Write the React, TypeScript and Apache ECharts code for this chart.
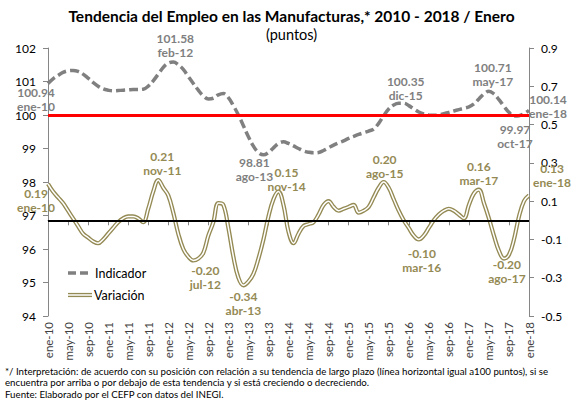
import React, { useEffect, useRef } from 'react';
import * as echarts from 'echarts';

const monthNames = ['ene', 'feb', 'mar', 'abr', 'may', 'jun', 'jul', 'ago', 'sep', 'oct', 'nov', 'dic'];
const categories: string[] = [];
for (let y = 10; y <= 18; y++) {
  for (let m = 0; m < 12; m++) {
    if (y === 18 && m > 0) break;
    categories.push(`${monthNames[m]}-${y}`);
  }
}

const indicador = [
  100.94, 101.08, 101.18, 101.27, 101.32, 101.33, 101.30, 101.22, 101.10, 100.97, 100.86, 100.78,
  100.74, 100.72, 100.73, 100.74, 100.75, 100.76, 100.76, 100.77, 100.86, 101.02, 101.22, 101.42,
  101.55, 101.58, 101.50, 101.36, 101.15, 100.94, 100.74, 100.57, 100.48, 100.50, 100.60, 100.64,
  100.52, 100.28, 100.00, 99.68, 99.35, 99.07, 98.88, 98.81, 98.88, 99.02, 99.15, 99.20,
  99.15, 99.08, 99.00, 98.93, 98.89, 98.87, 98.88, 98.94, 99.02, 99.10, 99.17, 99.23,
  99.30, 99.36, 99.42, 99.47, 99.52, 99.58, 99.75, 99.98, 100.18, 100.30, 100.35, 100.35,
  100.28, 100.18, 100.09, 100.03, 100.00, 99.99, 100.00, 100.04, 100.08, 100.12, 100.16, 100.20,
  100.24, 100.33, 100.48, 100.63, 100.71, 100.63, 100.46, 100.26, 100.08, 99.97, 99.98, 100.04,
  100.14,
];

const variacion = [
  0.19, 0.15, 0.12, 0.09, 0.05, 0.01, -0.03, -0.07, -0.09, -0.11, -0.12, -0.10,
  -0.07, -0.04, -0.01, 0.01, 0.02, 0.02, 0.01, -0.01, 0.06, 0.15, 0.21, 0.17,
  0.13, 0.04, -0.07, -0.15, -0.19, -0.21, -0.20, -0.17, -0.08, -0.01, 0.09, 0.08,
  -0.04, -0.19, -0.30, -0.34, -0.32, -0.28, -0.20, -0.10, 0.02, 0.11, 0.15, 0.08,
  -0.06, -0.12, -0.07, -0.03, -0.02, -0.01, 0.03, 0.08, 0.10, 0.07, 0.05, 0.06,
  0.07, 0.08, 0.04, 0.05, 0.07, 0.12, 0.17, 0.20, 0.17, 0.11, 0.05, 0.00,
  -0.04, -0.08, -0.10, -0.08, -0.04, 0.00, 0.03, 0.05, 0.06, 0.05, 0.03, 0.01,
  0.08, 0.14, 0.16, 0.09, 0.01, -0.08, -0.16, -0.20, -0.18, -0.10, 0.02, 0.10,
  0.13,
];

const leftTicks = [94, 95, 96, 97, 98, 99, 100, 101, 102];
const rightTicks = [-0.5, -0.3, -0.1, 0.1, 0.3, 0.5, 0.7, 0.9];
const referenceLevel = 100;
const zeroLevel = 0;

const indLabelIdx = [0, 25, 43, 71, 88, 93, 96];
const indLabelMonth = ['ene-10', 'feb-12', 'ago-13', 'dic-15', 'may-17', 'oct-17', 'ene-18'];
const varLabelIdx = [0, 22, 30, 39, 46, 67, 74, 86, 91, 96];
const varLabelMonth = ['ene-10', 'nov-11', 'jul-12', 'abr-13', 'nov-14', 'ago-15', 'mar-16', 'mar-17', 'ago-17', 'ene-18'];

// label layout offsets (pixels)
const indLabelOffset = [[-12, 16], [2, -17], [-9, 15], [2, -15], [4, -17], [1, 20], [19, -4]];
const varLabelOffset = [[-12, 17], [4, -17], [7, 19], [0, 18], [8, -12], [1, -16], [3, 21], [0, -16], [3, 13], [23, -20]];

const FONT = 'Lato, "Noto Sans", sans-serif';
const GRAY = '#7F7F7F';
const OLIVE = '#948A54';

function buildData(values: number[], idx: number[], months: string[], offsets: number[][], color: string) {
  return values.map((v, i) => {
    const k = idx.indexOf(i);
    if (k < 0) return v;
    return {
      value: v,
      symbol: 'circle',
      symbolSize: 0,
      label: {
        show: true,
        position: 'inside',
        offset: offsets[k],
        formatter: `${v.toFixed(2)}\n${months[k]}`,
        color,
        fontFamily: FONT,
        fontWeight: 'bold',
        fontSize: 12,
        lineHeight: 14,
      },
    };
  });
}

export default function App() {
  const ref = useRef<HTMLDivElement>(null);
  useEffect(() => {
    if (!ref.current) return;
    const chart = echarts.init(ref.current, undefined, { renderer: 'svg' });
    chart.setOption({
      animation: false,
      backgroundColor: '#fff',
      title: {
        text: 'Tendencia del Empleo en las Manufacturas,* 2010 - 2018 / Enero',
        subtext: '(puntos)',
        left: 'center',
        top: 3,
        itemGap: 3,
        textStyle: { fontFamily: FONT, fontSize: 15.5, fontWeight: 'bold', color: '#000' },
        subtextStyle: { fontFamily: FONT, fontSize: 14.5, color: '#000' },
      },
      grid: { left: 48, right: 54, top: 48, bottom: 87 },
      xAxis: {
        type: 'category',
        data: categories,
        boundaryGap: false,
        axisLine: { lineStyle: { color: '#868686', width: 1 } },
        axisTick: { interval: 3, length: 5, lineStyle: { color: '#868686' } },
        axisLabel: { interval: 3, rotate: 90, margin: 6, fontFamily: FONT, fontSize: 11.5, color: '#404040' },
        splitLine: { show: false },
      },
      yAxis: [
        {
          type: 'value',
          min: 94,
          max: 102,
          interval: 1,
          axisLine: { show: true, lineStyle: { color: '#868686' } },
          axisTick: { show: true, length: 5, lineStyle: { color: '#868686' }, customValues: leftTicks },
          axisLabel: { margin: 12, fontFamily: FONT, fontSize: 12, color: '#000', customValues: leftTicks },
          splitLine: { show: false },
        },
        {
          type: 'value',
          min: -0.5,
          max: 0.9,
          position: 'right',
          axisLine: { show: true, lineStyle: { color: '#868686' } },
          axisTick: { show: true, length: 5, lineStyle: { color: '#868686' }, customValues: rightTicks },
          axisLabel: {
            margin: 12,
            fontFamily: FONT,
            fontSize: 12,
            color: '#000',
            customValues: rightTicks,
            formatter: (v: number) => v.toFixed(1),
          },
          splitLine: { show: false },
        },
      ],
      series: [
        {
          name: 'Variación',
          type: 'line',
          yAxisIndex: 1,
          smooth: 0.4,
          symbol: 'none',
          showAllSymbol: true,
          z: 2,
          lineStyle: { color: OLIVE, width: 4.2 },
          data: buildData(variacion, varLabelIdx, varLabelMonth, varLabelOffset, OLIVE),
        },
        {
          name: 'VariaciónInner',
          type: 'line',
          yAxisIndex: 1,
          smooth: 0.4,
          symbol: 'none',
          z: 3,
          silent: true,
          lineStyle: { color: '#fff', width: 1.5 },
          data: variacion,
          markLine: {
            silent: true,
            symbol: 'none',
            label: { show: false },
            lineStyle: { color: '#000', width: 2, type: 'solid' },
            data: [{ yAxis: zeroLevel }],
          },
        },
        {
          name: 'Indicador',
          type: 'line',
          yAxisIndex: 0,
          smooth: 0.4,
          symbol: 'none',
          showAllSymbol: true,
          z: 4,
          lineStyle: { color: '#808080', width: 3.5, type: [9, 4] },
          data: buildData(indicador, indLabelIdx, indLabelMonth, indLabelOffset, GRAY),
          markLine: {
            silent: true,
            symbol: 'none',
            label: { show: false },
            lineStyle: { color: '#FF0000', width: 3, type: 'solid' },
            data: [{ yAxis: referenceLevel }],
          },
        },
      ],
      graphic: [
        {
          type: 'line',
          shape: { x1: 68, y1: 273, x2: 90, y2: 273 },
          style: { stroke: '#808080', lineWidth: 3.5, lineDash: [8, 4] },
        },
        {
          type: 'text',
          x: 95,
          y: 273,
          style: { text: 'Indicador', fontFamily: FONT, fontSize: 12.5, fill: '#000', verticalAlign: 'middle' },
        },
        {
          type: 'line',
          shape: { x1: 68, y1: 295, x2: 92, y2: 295 },
          style: { stroke: OLIVE, lineWidth: 4.2 },
        },
        {
          type: 'line',
          shape: { x1: 68, y1: 295, x2: 92, y2: 295 },
          style: { stroke: '#fff', lineWidth: 1.5 },
        },
        {
          type: 'text',
          x: 94,
          y: 295,
          style: { text: 'Variación', fontFamily: FONT, fontSize: 12.5, fill: '#000', verticalAlign: 'middle' },
        },
        {
          type: 'text',
          x: 5,
          y: 366,
          style: {
            text: '*/ Interpretación: de acuerdo con su posición con relación a su tendencia de largo plazo (línea horizontal igual a100 puntos), si se',
            fontFamily: FONT,
            fontSize: 9.7,
            fill: '#000',
          },
        },
        {
          type: 'text',
          x: 5,
          y: 377,
          style: {
            text: 'encuentra por arriba o por debajo de esta tendencia y si está creciendo o decreciendo.',
            fontFamily: FONT,
            fontSize: 9.7,
            fill: '#000',
          },
        },
        {
          type: 'text',
          x: 5,
          y: 389,
          style: {
            text: 'Fuente: Elaborado por el CEFP con datos del INEGI.',
            fontFamily: FONT,
            fontSize: 9.7,
            fill: '#000',
          },
        },
      ],
    });
    return () => chart.dispose();
  }, []);
  return (
    <div
      ref={ref}
      style={{ position: 'fixed', left: 0, top: 0, width: 583, height: 403, background: '#fff' }}
    />
  );
}
